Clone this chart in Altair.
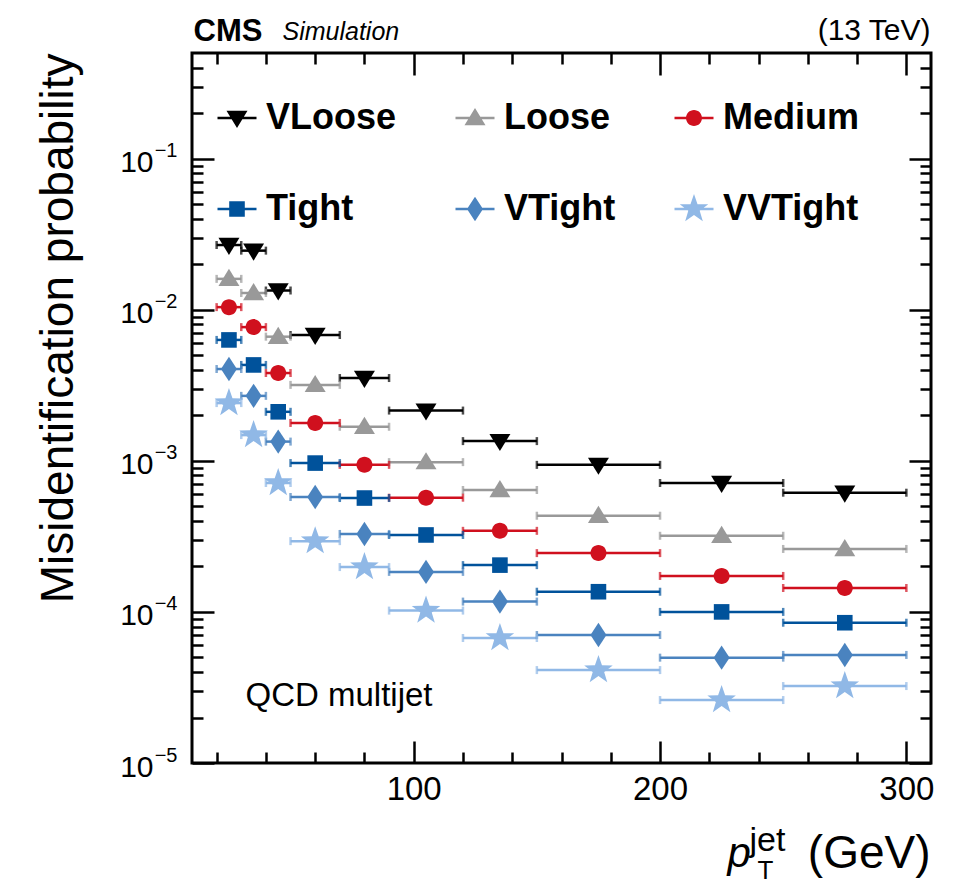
import altair as alt
import pandas as pd

# ---------------- data ----------------
series = ["VLoose", "Loose", "Medium", "Tight", "VTight", "VVTight"]
colors = ["#000000", "#999999", "#d0101e", "#00529b", "#4a83bf", "#90b8e6"]

bin_lo = [20, 30, 40, 50, 70, 90, 120, 150, 200, 250]
bin_hi = [30, 40, 50, 70, 90, 120, 150, 200, 250, 300]
bin_center = [25, 35, 45, 60, 80, 105, 135, 175, 225, 275]

vloose = [2.68e-2, 2.46e-2, 1.34e-2, 6.8e-3, 3.53e-3, 2.15e-3, 1.35e-3, 9.4e-4, 7.13e-4, 6.15e-4]
loose = [1.60e-2, 1.29e-2, 6.63e-3, 3.18e-3, 1.68e-3, 9.8e-4, 6.41e-4, 4.33e-4, 3.19e-4, 2.61e-4]
medium = [1.04e-2, 7.67e-3, 3.81e-3, 1.78e-3, 9.4e-4, 5.70e-4, 3.44e-4, 2.45e-4, 1.73e-4, 1.44e-4]
tight = [6.31e-3, 4.31e-3, 2.11e-3, 9.66e-4, 5.67e-4, 3.23e-4, 2.04e-4, 1.36e-4, 1.0e-4, 8.48e-5]
vtight = [4.05e-3, 2.69e-3, 1.34e-3, 5.76e-4, 3.28e-4, 1.84e-4, 1.17e-4, 7.03e-5, 4.98e-5, 5.19e-5]
vvtight = [2.41e-3, 1.48e-3, 7.13e-4, 2.94e-4, 1.98e-4, 1.02e-4, 6.72e-5, 4.12e-5, 2.61e-5, 3.23e-5]

x_major = [100, 200, 300]
x_minor = [20, 40, 60, 80, 120, 140, 160, 180, 220, 240, 260, 280]
y_major = [1e-5, 1e-4, 1e-3, 1e-2, 1e-1]
y_minor = [k * d for d in [1e-5, 1e-4, 1e-3, 1e-2, 1e-1] for k in range(2, 10) if k * d < 0.5]

# marker shapes (unit box, scaled by size)
TRI_DOWN = "M-1.05,-0.72L1.05,-0.72L0,1.0Z"
TRI_UP = "M0,-1.0L1.05,0.72L-1.05,0.72Z"
CIRCLE = "M0.8,0A0.8,0.8,0,1,1,-0.8,0A0.8,0.8,0,1,1,0.8,0Z"
SQUARE = "M-0.78,-0.78L0.78,-0.78L0.78,0.78L-0.78,0.78Z"
DIAMOND = "M0,-1.22L0.8,0L0,1.22L-0.8,0Z"
STAR = ("M0,-1.5L0.353,-0.485L1.427,-0.464L0.571,0.185L0.882,1.214L0,0.6"
        "L-0.882,1.214L-0.571,0.185L-1.427,-0.464L-0.353,-0.485Z")
data_paths = [TRI_DOWN, TRI_UP, CIRCLE, SQUARE, DIAMOND, STAR]
LEG_LINE = "M-1.95,-0.13L1.95,-0.13L1.95,0.13L-1.95,0.13Z"
legend_paths = [p + LEG_LINE for p in data_paths]

rows = []
for s, vals in zip(series, [vloose, loose, medium, tight, vtight, vvtight]):
    for lo, hi, xc, v in zip(bin_lo, bin_hi, bin_center, vals):
        rows.append(dict(series=s, lo=lo, hi=hi, x=xc, val=v))
df = pd.DataFrame(rows)

# ---------------- geometry ----------------
W, H = 739, 710
FONT = "Liberation Sans"

xs = alt.Scale(domain=[10, 310], nice=False, zero=False)
ys = alt.Scale(type="log", domain=[1e-5, 0.5], nice=False)
cs = alt.Scale(domain=series, range=colors)


def ax(**kw):
    base = dict(grid=False, domain=False, labels=False, ticks=True, title=None,
                tickColor="black", tickWidth=2.5, labelFlush=False, labelOverlap=False)
    base.update(kw)
    return alt.Axis(**base)


def tkw(text, x, y, size, align="left", weight="normal", style="normal", angle=0):
    return dict(title=text, titleX=x, titleY=y, titleFont=FONT, titleFontSize=size,
                titleAlign=align, titleBaseline="alphabetic", titleFontWeight=weight,
                titleFontStyle=style, titleColor="black", titleAngle=angle)


# x axes
axA = ax(orient="top", offset=-H, values=x_major, tickSize=22,
         **tkw("(GeV)", 738, 104, 46, align="right"))
axB = ax(orient="top", offset=-H, values=x_minor, tickSize=11,
         **tkw("p", 535, 103, 42, style="italic"))
axC = ax(orient="bottom", offset=-H, values=x_major, tickSize=22,
         **tkw("CMS", 1, -13, 31, weight="bold"))
axD = ax(orient="bottom", offset=-H, values=x_minor, tickSize=11,
         **tkw("(13 TeV)", 738, -14, 30, align="right"))
axE = ax(orient="bottom", offset=0, values=x_major, ticks=False, tickSize=0, labels=True,
         labelFont=FONT, labelFontSize=33, labelColor="black", labelPadding=10,
         **tkw("jet", 557, 87, 34))
axF = ax(orient="bottom", offset=0, values=x_major, ticks=False, tickSize=0,
         **tkw("T", 565, 115, 26))

# y axes
ayA = ax(orient="right", offset=-W, values=y_major, tickSize=22,
         **tkw("Misidentification probability", -120, 0, 46, align="right", angle=270))
ayB = ax(orient="right", offset=-W, values=y_minor, tickSize=11,
         **tkw("QCD multijet", 53, 652, 33))
ayC = ax(orient="left", offset=-W, values=y_major, tickSize=22,
         **tkw("Simulation", 90 - W, -14, 25, style="italic"))
ayD = ax(orient="left", offset=-W, values=y_minor, tickSize=11)
ayE = ax(orient="left", offset=0, values=y_major, ticks=False, tickSize=0, labels=True,
         labelExpr="'10'", labelFont=FONT, labelFontSize=30, labelColor="black",
         labelPadding=39, labelOffset=4)
ayF = ax(orient="left", offset=0, values=y_major, ticks=False, tickSize=0, labels=True,
         labelExpr="'\u2212' + round(-log(datum.value)/LN10)", labelFont=FONT,
         labelFontSize=20, labelColor="black", labelPadding=15, labelOffset=-8)

leg = alt.Legend(orient="none", legendX=30, legendY=47, columns=3, direction="horizontal",
                 title=None, columnPadding=58, rowPadding=55, symbolSize=400,
                 symbolStrokeWidth=0, symbolOffset=-3, labelOffset=11, labelFont=FONT,
                 labelFontSize=36, labelFontWeight="bold", labelColor="black",
                 labelLimit=0, symbolOpacity=1, padding=0)

base = alt.Chart(df)

bars = base.mark_rule(strokeWidth=2.5).encode(
    x=alt.X("lo:Q", scale=xs, axis=axA),
    x2="hi:Q",
    y=alt.Y("val:Q", scale=ys, axis=ayA),
    color=alt.Color("series:N", scale=cs, legend=None),
)

caps = base.transform_fold(["lo", "hi"], as_=["edge", "xe"]).mark_tick(
    orient="vertical", size=8, thickness=2.5
).encode(
    x=alt.X("xe:Q", scale=xs, axis=axB),
    y=alt.Y("val:Q", scale=ys, axis=ayB),
    color=alt.Color("series:N", scale=cs, legend=None),
)

points = base.mark_point(filled=True, opacity=1, size=400, strokeWidth=0).encode(
    x=alt.X("x:Q", scale=xs, axis=axC),
    y=alt.Y("val:Q", scale=ys, axis=ayC),
    color=alt.Color("series:N", scale=cs, legend=None),
    shape=alt.Shape("series:N", scale=alt.Scale(domain=series, range=data_paths), legend=None),
)

legend_layer = base.mark_point(filled=True, opacity=0, size=400, strokeWidth=0).encode(
    x=alt.X("x:Q", scale=xs, axis=axD),
    y=alt.Y("val:Q", scale=ys, axis=ayD),
    color=alt.Color("series:N", scale=cs, legend=leg),
    shape=alt.Shape("series:N", scale=alt.Scale(domain=series, range=legend_paths), legend=leg),
)

lab1 = base.mark_point(opacity=0).encode(
    x=alt.X("x:Q", scale=xs, axis=axE),
    y=alt.Y("val:Q", scale=ys, axis=ayE),
)
lab2 = base.mark_point(opacity=0).encode(
    x=alt.X("x:Q", scale=xs, axis=axF),
    y=alt.Y("val:Q", scale=ys, axis=ayF),
)

chart = alt.layer(bars, caps, points, legend_layer, lab1, lab2).resolve_scale(
    color="independent", shape="independent"
).resolve_axis(x="independent", y="independent").properties(
    width=W, height=H,
    padding={"left": 184, "top": 45, "right": 12, "bottom": 118},
    autosize=alt.AutoSizeParams(type="none"),
).configure_view(stroke="black", strokeWidth=3)

chart.save("out.html", embed_options={"renderer": "svg", "actions": False})
